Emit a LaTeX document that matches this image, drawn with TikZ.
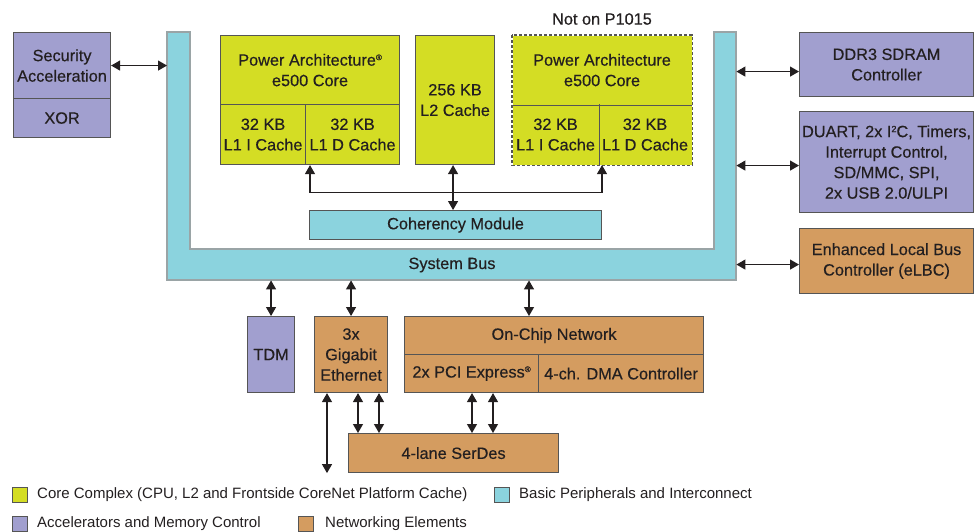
\documentclass[tikz,border=0pt]{standalone}
\usepackage{fontspec}
\setmainfont{Liberation Sans}
\newfontfamily\medf{Liberation Sans}[FakeBold=0.45]
\usetikzlibrary{arrows.meta,calc}
\definecolor{coreg}{HTML}{D4DD24}
\definecolor{cyanb}{HTML}{8BD3DE}
\definecolor{purp}{HTML}{A19FCF}
\definecolor{oran}{HTML}{D49C60}
\definecolor{bdr}{HTML}{555555}
\definecolor{busbdr}{HTML}{9AA4A6}
\definecolor{txt}{HTML}{231F20}
\newcommand\regm{{\fontsize{8}{8}\selectfont\raisebox{5.5pt}{®}}}
\newcommand\sqtwo{{\fontsize{9}{9}\selectfont\raisebox{5pt}{2}}}
\begin{document}
\begin{tikzpicture}[x=1pt,y=-1pt,
  box/.style={draw=bdr, line width=1.1pt, inner sep=0pt, anchor=north west, align=center,
    font=\medf\fontsize{16.3}{20.5}\selectfont, text=txt},
  ghost/.style={inner sep=0pt, anchor=north west},
  arr/.style={{Triangle[length=9pt,width=10pt]}-{Triangle[length=9pt,width=10pt]}, line width=1.2pt, draw=txt},
  legsq/.style={draw=bdr, line width=0.8pt, inner sep=0pt, minimum width=15pt, minimum height=15pt, anchor=north west},
  legtxt/.style={anchor=west, inner sep=0pt, font=\fontsize{15}{18}\selectfont, text=txt},
]
\useasboundingbox (0,0) rectangle (979,531);

% System bus (L/U shape)
\fill[cyanb] (167,32) -- (190,32) -- (190,249) -- (714,249) -- (714,32) -- (736,32) -- (736,280) -- (167,280) -- cycle;
\draw[busbdr, line width=1.1pt] (167,32) -- (190,32) -- (190,249) -- (714,249) -- (714,32) -- (736,32) -- (736,280) -- (167,280) -- cycle;
\node[ghost, minimum width=23pt, minimum height=248pt] (busL) at (167,32) {};
\node[ghost, minimum width=22pt, minimum height=248pt] (busR) at (714,32) {};
\node[ghost, minimum width=569pt, minimum height=31pt] (busB) at (167,249) {};
\node[font=\medf\fontsize{16.3}{20}\selectfont, text=txt] (bus) at (452,265) {System Bus};

% Security
\node[box, fill=purp, minimum width=97pt, minimum height=66pt] (sec) at (13,32) {Security\\Acceleration};
\node[box, fill=purp, minimum width=97pt, minimum height=39pt] (xor) at (13,98) {XOR};

% Core 1
\node[box, fill=coreg, minimum width=179pt, minimum height=69pt] (c1top) at (220,35) {Power Architecture\regm\\e500 Core};
\node[box, fill=coreg, minimum width=85pt, minimum height=60pt] (c1i) at (220,104) {32 KB\\L1 I Cache};
\node[box, fill=coreg, minimum width=94pt, minimum height=60pt] (c1d) at (305,104) {32 KB\\L1 D Cache};

% L2
\node[box, fill=coreg, minimum width=79pt, minimum height=129pt] (l2) at (415,35) {256 KB\\L2 Cache};

% Core 2 (dashed)
\node[box, draw=none, fill=coreg, minimum width=179pt, minimum height=69pt] (c2top) at (512,35) {Power Architecture\\e500 Core};
\node[box, draw=none, fill=coreg, minimum width=86pt, minimum height=60pt] (c2i) at (512,104) {32 KB\\L1 I Cache};
\node[box, draw=none, fill=coreg, minimum width=93pt, minimum height=60pt] (c2d) at (598,104) {32 KB\\L1 D Cache};
\draw[bdr, line width=1.1pt] (c2top.south west) -- (c2top.south east);
\draw[bdr, line width=1.1pt] (c2i.north east) -- (c2i.south east);
\draw[bdr, line width=1.1pt, dash pattern=on 3pt off 2pt] (c2top.north west) rectangle (c2d.south east);
\node[font=\medf\fontsize{16.3}{20}\selectfont, text=txt] (np) at (602,19) {Not on P1015};

% Coherency
\node[box, fill=cyanb, minimum width=292pt, minimum height=29pt] (coh) at (309,210) {Coherency Module};

% Right side
\node[box, fill=purp, minimum width=174pt, minimum height=64pt] (ddr) at (799,32) {DDR3 SDRAM\\Controller};
\node[box, fill=purp, minimum width=174pt, minimum height=101pt] (duart) at (799,111) {DUART, 2x I\sqtwo C, Timers,\\Interrupt Control,\\SD/MMC, SPI,\\2x USB 2.0/ULPI};
\node[box, fill=oran, minimum width=174pt, minimum height=65pt] (elbc) at (799,228) {Enhanced Local Bus\\Controller (eLBC)};

% Bottom
\node[box, fill=purp, minimum width=47pt, minimum height=76pt] (tdm) at (247,316) {TDM};
\node[box, fill=oran, minimum width=73pt, minimum height=76pt] (eth) at (314,316) {3x\\Gigabit\\Ethernet};
\node[box, fill=oran, minimum width=299pt, minimum height=38pt] (ocn) at (404,316) {On-Chip Network};
\node[box, fill=oran, minimum width=134pt, minimum height=38pt] (pci) at (404,354) {2x PCI Express\regm};
\node[box, fill=oran, minimum width=165pt, minimum height=38pt] (dma) at (538,354) {4-ch. DMA Controller};
\node[box, fill=oran, minimum width=210pt, minimum height=39pt] (serdes) at (348,433) {4-lane SerDes};

% Arrows
\draw[arr] (sec.east) -- (sec.east -| busL.west);
\coordinate (ddrA) at ($(ddr.west)+(0,7)$);
\draw[arr] (ddrA) -- (ddrA -| busR.east);
\coordinate (duA) at ($(duart.west)+(0,3.5)$);
\draw[arr] (duA) -- (duA -| busR.east);
\coordinate (elA) at ($(elbc.west)+(0,3.5)$);
\draw[arr] (elA) -- (elA -| busR.east);

\coordinate (c1a) at ($(c1d.south west)+(5,0)$);
\coordinate (c2a) at ($(c2d.south west)+(4,0)$);
\draw[arr] (c1a) -- ++(0,27) -| (c2a);
\coordinate (l2a) at ($(l2.south)+(-2,0)$);
\draw[arr] (l2a) -- (l2a |- coh.north);

\draw[arr] (tdm.north) -- (tdm.north |- busB.south);
\draw[arr] (eth.north) -- (eth.north |- busB.south);
\coordinate (ocnA) at ($(ocn.north west)+(125,0)$);
\draw[arr] (ocnA) -- (ocnA |- busB.south);

\coordinate (e1) at ($(eth.south west)+(13,0)$);
\coordinate (e2) at ($(eth.south west)+(44,0)$);
\coordinate (e3) at ($(eth.south west)+(65,0)$);
\coordinate (eout) at (e1 |- serdes.south);
\draw[arr] (e1) -- (eout);
\draw[arr] (e2) -- (e2 |- serdes.north);
\draw[arr] (e3) -- (e3 |- serdes.north);
\coordinate (p1) at ($(pci.south west)+(68,0)$);
\coordinate (p2) at ($(pci.south west)+(89,0)$);
\draw[arr] (p1) -- (p1 |- serdes.north);
\draw[arr] (p2) -- (p2 |- serdes.north);

% Legend
\node[legsq, fill=coreg] (lg1) at (12,487) {};
\node[legtxt] (lt1) at (37,495) {Core Complex (CPU, L2 and Frontside CoreNet Platform Cache)};
\node[legsq, fill=cyanb] (lg2) at (494,487) {};
\node[legtxt] (lt2) at (519,495) {Basic Peripherals and Interconnect};
\node[legsq, fill=purp] (lg3) at (12,516) {};
\node[legtxt] (lt3) at (37,523.5) {Accelerators and Memory Control};
\node[legsq, fill=oran] (lg4) at (298,516) {};
\node[legtxt] (lt4) at (325,523.5) {Networking Elements};
\end{tikzpicture}
\end{document}
